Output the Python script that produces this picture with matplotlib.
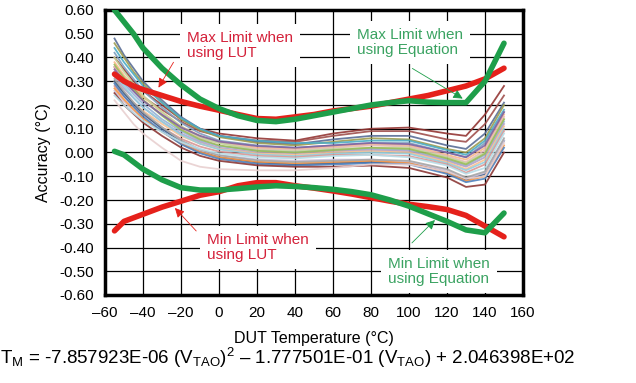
import matplotlib
matplotlib.use('Agg')
import matplotlib.pyplot as plt

plt.rcParams['font.family'] = ['Liberation Sans', 'DejaVu Sans']
plt.rcParams['mathtext.fontset'] = 'custom'
plt.rcParams['mathtext.rm'] = 'Liberation Sans'
plt.rcParams['mathtext.default'] = 'regular'

# Limit curves (degC vs accuracy)
t_lim = [-55, -50, -45, -40, -30, -20, -10, 0, 10, 20, 30, 40, 50, 60, 70, 80, 90, 100, 110, 120, 130, 140, 150]
max_lut = [0.33, 0.30, 0.28, 0.265, 0.24, 0.215, 0.195, 0.178, 0.16, 0.143, 0.14, 0.15, 0.16, 0.175, 0.185, 0.195,
           0.21, 0.225, 0.24, 0.26, 0.28, 0.31, 0.355]
min_lut = [-0.33, -0.29, -0.275, -0.26, -0.23, -0.205, -0.18, -0.165, -0.14, -0.127, -0.127, -0.14, -0.15, -0.162,
           -0.175, -0.19, -0.205, -0.218, -0.228, -0.24, -0.265, -0.31, -0.355]
max_eq = [0.60, 0.55, 0.50, 0.44, 0.355, 0.285, 0.225, 0.185, 0.155, 0.135, 0.13, 0.14, 0.155, 0.17, 0.185, 0.20,
          0.21, 0.218, 0.212, 0.21, 0.21, 0.30, 0.46]
min_eq = [0.005, -0.01, -0.04, -0.07, -0.115, -0.148, -0.158, -0.158, -0.152, -0.145, -0.14, -0.143, -0.148,
          -0.155, -0.165, -0.178, -0.20, -0.226, -0.258, -0.29, -0.326, -0.338, -0.255]

# Individual device curves
t_dev = [-55, -50, -45, -40, -30, -20, -10, 0, 20, 40, 60, 80, 100, 120, 130, 140, 150]
dev_curves = [
    [0.40, 0.35, 0.30, 0.26, 0.20, 0.14, 0.10, 0.08, 0.06, 0.05, 0.08, 0.10, 0.105, 0.08, 0.07, 0.16, 0.28],
    [0.36, 0.31, 0.27, 0.235, 0.18, 0.13, 0.09, 0.07, 0.05, 0.045, 0.07, 0.09, 0.09, 0.055, 0.045, 0.12, 0.24],
    [0.48, 0.41, 0.355, 0.30, 0.22, 0.15, 0.10, 0.07, 0.045, 0.035, 0.055, 0.07, 0.07, 0.03, 0.015, 0.08, 0.21],
    [0.46, 0.40, 0.34, 0.29, 0.21, 0.14, 0.095, 0.065, 0.04, 0.03, 0.045, 0.06, 0.055, 0.015, 0.0, 0.06, 0.20],
    [0.44, 0.38, 0.33, 0.28, 0.21, 0.145, 0.10, 0.07, 0.05, 0.04, 0.04, 0.05, 0.05, 0.01, -0.01, 0.05, 0.18],
    [0.42, 0.36, 0.31, 0.26, 0.19, 0.125, 0.08, 0.05, 0.03, 0.02, 0.03, 0.04, 0.04, 0.0, -0.02, 0.04, 0.17],
    [0.38, 0.325, 0.28, 0.235, 0.17, 0.11, 0.07, 0.045, 0.02, 0.015, 0.025, 0.035, 0.03, -0.01, -0.03, 0.02, 0.16],
    [0.36, 0.31, 0.26, 0.22, 0.16, 0.10, 0.06, 0.04, 0.015, 0.01, 0.02, 0.03, 0.025, -0.015, -0.04, 0.01, 0.15],
    [0.40, 0.34, 0.29, 0.24, 0.17, 0.11, 0.065, 0.04, 0.01, 0.005, 0.015, 0.02, 0.02, -0.02, -0.045, 0.0, 0.14],
    [0.34, 0.29, 0.245, 0.205, 0.14, 0.09, 0.05, 0.027, 0.007, 0.0, 0.01, 0.015, 0.01, -0.03, -0.055, -0.01, 0.13],
    [0.32, 0.27, 0.23, 0.19, 0.13, 0.08, 0.044, 0.02, 0.0, -0.005, 0.005, 0.01, 0.005, -0.035, -0.06, -0.02, 0.12],
    [0.30, 0.25, 0.21, 0.175, 0.12, 0.07, 0.037, 0.015, -0.004, -0.01, 0.0, 0.005, 0.0, -0.04, -0.07, -0.03, 0.11],
    [0.33, 0.28, 0.23, 0.19, 0.13, 0.075, 0.037, 0.013, -0.008, -0.015, -0.005, 0.0, -0.005, -0.045, -0.075, -0.04, 0.10],
    [0.28, 0.235, 0.195, 0.16, 0.105, 0.058, 0.025, 0.004, -0.014, -0.02, -0.01, -0.01, -0.015, -0.05, -0.085, -0.05, 0.09],
    [0.30, 0.25, 0.205, 0.165, 0.10, 0.045, 0.005, -0.02, -0.042, -0.05, -0.045, -0.04, -0.045, -0.08, -0.115, -0.09, 0.05],
    [0.26, 0.215, 0.177, 0.142, 0.089, 0.042, 0.009, -0.011, -0.029, -0.035, -0.03, -0.03, -0.04, -0.075, -0.11, -0.085, 0.05],
    [0.27, 0.223, 0.182, 0.144, 0.087, 0.037, 0.002, -0.02, -0.039, -0.045, -0.04, -0.035, -0.045, -0.085, -0.12, -0.10, 0.03],
    [0.29, 0.238, 0.193, 0.152, 0.09, 0.035, -0.003, -0.027, -0.048, -0.055, -0.05, -0.045, -0.05, -0.09, -0.125, -0.11, 0.02],
    [0.25, 0.20, 0.163, 0.126, 0.07, 0.021, -0.014, -0.035, -0.054, -0.06, -0.06, -0.055, -0.065, -0.105, -0.145, -0.135, 0.0],
    [0.22, 0.17, 0.12, 0.08, 0.02, -0.035, -0.06, -0.07, -0.075, -0.075, -0.065, -0.05, -0.05, -0.08, -0.11, -0.10, 0.04],
    [0.37, 0.315, 0.266, 0.222, 0.155, 0.096, 0.055, 0.03, 0.007, 0.0, 0.01, 0.02, 0.015, -0.025, -0.05, -0.005, 0.14],
    [0.31, 0.258, 0.212, 0.17, 0.107, 0.051, 0.013, -0.012, -0.033, -0.04, -0.035, -0.03, -0.035, -0.07, -0.105, -0.08, 0.06],
    [0.35, 0.30, 0.258, 0.218, 0.159, 0.106, 0.07, 0.046, 0.027, 0.02, 0.03, 0.04, 0.035, 0.0, -0.02, 0.03, 0.17],
    [0.24, 0.20, 0.166, 0.134, 0.086, 0.044, 0.015, -0.004, -0.02, -0.025, -0.015, -0.01, -0.02, -0.055, -0.09, -0.065, 0.08],
]
dev_colors = ['#943634', '#A0504D', '#5A6E96', '#9C9C50', '#4BACC6', '#7F9FBF', '#F9B88A', '#E6B9B8',
              '#C3D69B', '#95B3D7', '#B3A2C7', '#FAC090', '#93CDDD', '#D99694', '#385D8A', '#CCC1DA',
              '#F79646', '#4F81BD', '#8C3836', '#E8D0D0', '#9BBB59', '#A6A6A6', '#8064A2', '#B7DEE8']

red = '#E5211B'
green = '#1E9E4A'
red_txt = '#D4213A'
green_txt = '#3BA362'

fig = plt.figure(figsize=(6.36, 3.83), dpi=100)
ax = fig.add_axes([105 / 636, 88 / 383, 418 / 636, 285 / 383])

for vals, c in zip(dev_curves, dev_colors):
    ax.plot(t_dev, vals, color=c, lw=1.3, alpha=0.9, zorder=3)

ax.plot(t_lim, max_lut, color=red, lw=4, solid_capstyle='round', zorder=4)
ax.plot(t_lim, min_lut, color=red, lw=4, solid_capstyle='round', zorder=4)
ax.plot(t_lim, max_eq, color=green, lw=4, solid_capstyle='round', zorder=5)
ax.plot(t_lim, min_eq, color=green, lw=4, solid_capstyle='round', zorder=5)

ax.set_xlim(-60, 160)
ax.set_ylim(-0.6, 0.6)
ax.set_xticks(range(-60, 161, 20))
ax.set_xticklabels(['\u201360', '\u201340', '\u201320', '0', '20', '40', '60', '80', '100', '120', '140', '160'])
ax.set_yticks([i / 10 for i in range(-6, 7)])
ax.set_yticklabels(['%.2f' % (i / 10) for i in range(-6, 7)])
ax.tick_params(length=0, labelsize=11, pad=8)
ax.grid(True, color='black', lw=0.9, zorder=1)
ax.set_axisbelow(True)
for s in ax.spines.values():
    s.set_linewidth(2.5)
ax.set_xlabel('DUT Temperature (\u00b0C)', fontsize=11.5, labelpad=8)
ax.set_ylabel('Accuracy (\u00b0C)', fontsize=11.5, labelpad=6)

box = dict(facecolor='white', edgecolor='none', pad=5)
ax.text(-16.8, 0.45, 'Max Limit when\nusing LUT', color=red_txt, fontsize=11, ha='left', va='center',
        bbox=box, zorder=6, linespacing=1.1)
ax.text(72.6, 0.463, 'Max Limit when\nusing Equation', color=green_txt, fontsize=11, ha='left', va='center',
        bbox=box, zorder=6, linespacing=1.1)
ax.text(-6.3, -0.40, 'Min Limit when\nusing LUT', color=red_txt, fontsize=11, ha='left', va='center',
        bbox=box, zorder=6, linespacing=1.1)
ax.text(88.9, -0.50, 'Min Limit when\nusing Equation', color=green_txt, fontsize=11, ha='left', va='center',
        bbox=box, zorder=6, linespacing=1.1)

arrow_red = dict(arrowstyle='-|>', color=red, lw=0.6, mutation_scale=14)
arrow_green = dict(arrowstyle='-|>', color=green, lw=0.6, mutation_scale=14)
ax.annotate('', xy=(-32.6, 0.263), xytext=(-23.2, 0.39), arrowprops=arrow_red, zorder=7)
ax.annotate('', xy=(129.5, 0.221), xytext=(100.5, 0.36), arrowprops=arrow_green, zorder=7)
ax.annotate('', xy=(-24.2, -0.225), xytext=(-11, -0.339), arrowprops=arrow_red, zorder=7)
ax.annotate('', xy=(114.7, -0.276), xytext=(100.5, -0.389), arrowprops=arrow_green, zorder=7)

fig.text(0.0, 1 - 358 / 383,
         'T$_{M}$ = -7.857923E-06 (V$_{TAO}$)$^{2}$ \u2013 1.777501E-01 (V$_{TAO}$) + 2.046398E+02',
         fontsize=13.5, ha='left', va='center')

fig.savefig('out.png', dpi=100)
